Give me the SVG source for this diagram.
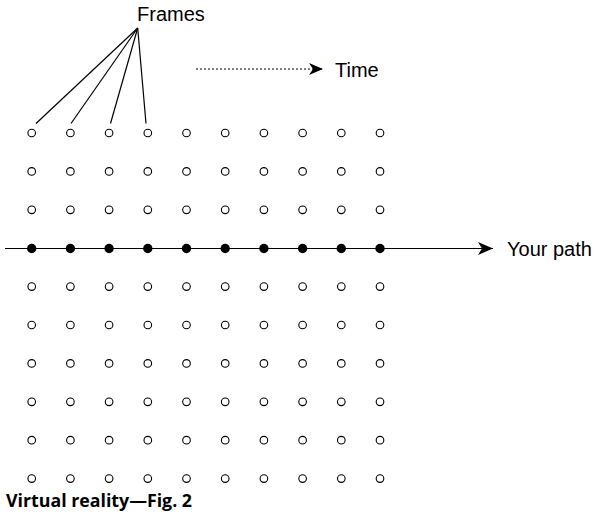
<svg xmlns="http://www.w3.org/2000/svg" width="595" height="519" viewBox="0 0 595 519">
<style>
.lbl{font-family:"Liberation Sans",Arial,sans-serif;font-size:20px;fill:#000}
.cap{font-family:"Open Sans",sans-serif;font-weight:bold;font-size:18.5px;fill:#000}
.o{fill:#fff;stroke:#000;stroke-width:1.1}
.f{fill:#000}
.ln{stroke:#000;stroke-width:1.2;fill:none}
</style>
<defs>
<marker id="ah" viewBox="0 0 15 13" refX="15" refY="6.5" markerWidth="15" markerHeight="13" markerUnits="userSpaceOnUse" orient="auto">
<path d="M0,0 L15,6.5 L0,13 L4,6.5 Z" fill="#000"/>
</marker>
<marker id="ah2" viewBox="0 0 14 12" refX="14" refY="6" markerWidth="14" markerHeight="12" markerUnits="userSpaceOnUse" orient="auto">
<path d="M0,0 L14,6 L0,12 L4,6 Z" fill="#000"/>
</marker>
</defs>
<g id="connectors">
<line class="ln" x1="137.7" y1="28" x2="36" y2="123.5"/>
<line class="ln" x1="137.7" y1="28" x2="71" y2="123.5"/>
<line class="ln" x1="137.7" y1="28" x2="110.5" y2="123.5"/>
<line class="ln" x1="137.7" y1="28" x2="146" y2="123.5"/>
<line class="ln" x1="196" y1="69" x2="323" y2="69" stroke-dasharray="2 2" marker-end="url(#ah2)"/>
<line class="ln" x1="5" y1="248.5" x2="493" y2="248.5" stroke-width="1.5" marker-end="url(#ah)"/>
</g>
<g id="frames-label"><text class="lbl" x="137" y="21">Frames</text></g>
<g id="time-label"><text class="lbl" x="335" y="77">Time</text></g>
<g id="path-label"><text class="lbl" x="507" y="256">Your path</text></g>
<g id="grid">
<g id="row0"><circle class="o" cx="31.7" cy="133" r="3.8"/><circle class="o" cx="70.4" cy="133" r="3.8"/><circle class="o" cx="109.1" cy="133" r="3.8"/><circle class="o" cx="147.8" cy="133" r="3.8"/><circle class="o" cx="186.5" cy="133" r="3.8"/><circle class="o" cx="225.2" cy="133" r="3.8"/><circle class="o" cx="263.9" cy="133" r="3.8"/><circle class="o" cx="302.6" cy="133" r="3.8"/><circle class="o" cx="341.3" cy="133" r="3.8"/><circle class="o" cx="380" cy="133" r="3.8"/></g>
<g id="row1"><circle class="o" cx="31.7" cy="171.4" r="3.8"/><circle class="o" cx="70.4" cy="171.4" r="3.8"/><circle class="o" cx="109.1" cy="171.4" r="3.8"/><circle class="o" cx="147.8" cy="171.4" r="3.8"/><circle class="o" cx="186.5" cy="171.4" r="3.8"/><circle class="o" cx="225.2" cy="171.4" r="3.8"/><circle class="o" cx="263.9" cy="171.4" r="3.8"/><circle class="o" cx="302.6" cy="171.4" r="3.8"/><circle class="o" cx="341.3" cy="171.4" r="3.8"/><circle class="o" cx="380" cy="171.4" r="3.8"/></g>
<g id="row2"><circle class="o" cx="31.7" cy="209.8" r="3.8"/><circle class="o" cx="70.4" cy="209.8" r="3.8"/><circle class="o" cx="109.1" cy="209.8" r="3.8"/><circle class="o" cx="147.8" cy="209.8" r="3.8"/><circle class="o" cx="186.5" cy="209.8" r="3.8"/><circle class="o" cx="225.2" cy="209.8" r="3.8"/><circle class="o" cx="263.9" cy="209.8" r="3.8"/><circle class="o" cx="302.6" cy="209.8" r="3.8"/><circle class="o" cx="341.3" cy="209.8" r="3.8"/><circle class="o" cx="380" cy="209.8" r="3.8"/></g>
<g id="row3"><circle class="f" cx="31.7" cy="248.5" r="4.7"/><circle class="f" cx="70.4" cy="248.5" r="4.7"/><circle class="f" cx="109.1" cy="248.5" r="4.7"/><circle class="f" cx="147.8" cy="248.5" r="4.7"/><circle class="f" cx="186.5" cy="248.5" r="4.7"/><circle class="f" cx="225.2" cy="248.5" r="4.7"/><circle class="f" cx="263.9" cy="248.5" r="4.7"/><circle class="f" cx="302.6" cy="248.5" r="4.7"/><circle class="f" cx="341.3" cy="248.5" r="4.7"/><circle class="f" cx="380" cy="248.5" r="4.7"/></g>
<g id="row4"><circle class="o" cx="31.7" cy="286.6" r="3.8"/><circle class="o" cx="70.4" cy="286.6" r="3.8"/><circle class="o" cx="109.1" cy="286.6" r="3.8"/><circle class="o" cx="147.8" cy="286.6" r="3.8"/><circle class="o" cx="186.5" cy="286.6" r="3.8"/><circle class="o" cx="225.2" cy="286.6" r="3.8"/><circle class="o" cx="263.9" cy="286.6" r="3.8"/><circle class="o" cx="302.6" cy="286.6" r="3.8"/><circle class="o" cx="341.3" cy="286.6" r="3.8"/><circle class="o" cx="380" cy="286.6" r="3.8"/></g>
<g id="row5"><circle class="o" cx="31.7" cy="325" r="3.8"/><circle class="o" cx="70.4" cy="325" r="3.8"/><circle class="o" cx="109.1" cy="325" r="3.8"/><circle class="o" cx="147.8" cy="325" r="3.8"/><circle class="o" cx="186.5" cy="325" r="3.8"/><circle class="o" cx="225.2" cy="325" r="3.8"/><circle class="o" cx="263.9" cy="325" r="3.8"/><circle class="o" cx="302.6" cy="325" r="3.8"/><circle class="o" cx="341.3" cy="325" r="3.8"/><circle class="o" cx="380" cy="325" r="3.8"/></g>
<g id="row6"><circle class="o" cx="31.7" cy="363.4" r="3.8"/><circle class="o" cx="70.4" cy="363.4" r="3.8"/><circle class="o" cx="109.1" cy="363.4" r="3.8"/><circle class="o" cx="147.8" cy="363.4" r="3.8"/><circle class="o" cx="186.5" cy="363.4" r="3.8"/><circle class="o" cx="225.2" cy="363.4" r="3.8"/><circle class="o" cx="263.9" cy="363.4" r="3.8"/><circle class="o" cx="302.6" cy="363.4" r="3.8"/><circle class="o" cx="341.3" cy="363.4" r="3.8"/><circle class="o" cx="380" cy="363.4" r="3.8"/></g>
<g id="row7"><circle class="o" cx="31.7" cy="401.8" r="3.8"/><circle class="o" cx="70.4" cy="401.8" r="3.8"/><circle class="o" cx="109.1" cy="401.8" r="3.8"/><circle class="o" cx="147.8" cy="401.8" r="3.8"/><circle class="o" cx="186.5" cy="401.8" r="3.8"/><circle class="o" cx="225.2" cy="401.8" r="3.8"/><circle class="o" cx="263.9" cy="401.8" r="3.8"/><circle class="o" cx="302.6" cy="401.8" r="3.8"/><circle class="o" cx="341.3" cy="401.8" r="3.8"/><circle class="o" cx="380" cy="401.8" r="3.8"/></g>
<g id="row8"><circle class="o" cx="31.7" cy="440.2" r="3.8"/><circle class="o" cx="70.4" cy="440.2" r="3.8"/><circle class="o" cx="109.1" cy="440.2" r="3.8"/><circle class="o" cx="147.8" cy="440.2" r="3.8"/><circle class="o" cx="186.5" cy="440.2" r="3.8"/><circle class="o" cx="225.2" cy="440.2" r="3.8"/><circle class="o" cx="263.9" cy="440.2" r="3.8"/><circle class="o" cx="302.6" cy="440.2" r="3.8"/><circle class="o" cx="341.3" cy="440.2" r="3.8"/><circle class="o" cx="380" cy="440.2" r="3.8"/></g>
<g id="row9"><circle class="o" cx="31.7" cy="478.6" r="3.8"/><circle class="o" cx="70.4" cy="478.6" r="3.8"/><circle class="o" cx="109.1" cy="478.6" r="3.8"/><circle class="o" cx="147.8" cy="478.6" r="3.8"/><circle class="o" cx="186.5" cy="478.6" r="3.8"/><circle class="o" cx="225.2" cy="478.6" r="3.8"/><circle class="o" cx="263.9" cy="478.6" r="3.8"/><circle class="o" cx="302.6" cy="478.6" r="3.8"/><circle class="o" cx="341.3" cy="478.6" r="3.8"/><circle class="o" cx="380" cy="478.6" r="3.8"/></g>
</g>
<g id="caption"><text class="cap" x="6" y="507" textLength="186" lengthAdjust="spacingAndGlyphs">Virtual reality—Fig. 2</text></g>
</svg>
